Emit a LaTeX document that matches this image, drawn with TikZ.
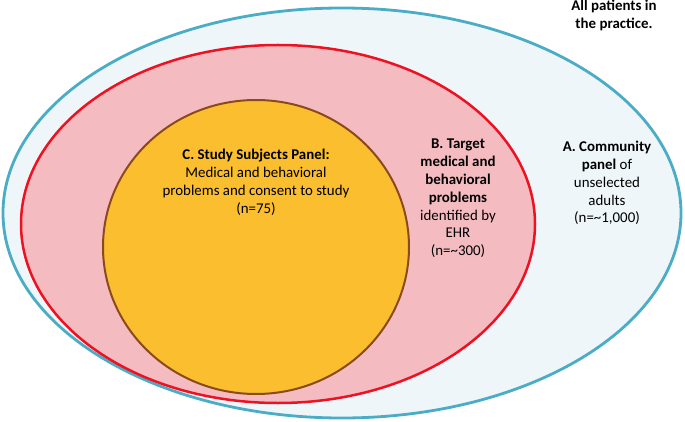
\documentclass[tikz,border=0pt]{standalone}
\usepackage{fontspec}
\setmainfont{Carlito}
\definecolor{aline}{HTML}{4BACC6}
\definecolor{afill}{HTML}{EEF6FA}
\definecolor{bline}{HTML}{EE1122}
\definecolor{bfill}{HTML}{F4BCC1}
\definecolor{cline}{HTML}{8B4A1C}
\definecolor{cfill}{HTML}{FBBE2E}
\begin{document}
\begin{tikzpicture}[x=1pt,y=-1pt,
  lbl/.style={align=center,font=\fontsize{14.9}{17.8}\selectfont,inner sep=0pt,anchor=north}]
\useasboundingbox (0,0) rectangle (685,422);
\filldraw[fill=afill,draw=aline,line width=2.8pt] (342,213) ellipse [x radius=339,y radius=205];
\filldraw[fill=bfill,draw=bline,line width=2.5pt] (278,224) ellipse [x radius=257,y radius=179];
\filldraw[fill=cfill,draw=cline,line width=2pt] (256,247) ellipse [x radius=153,y radius=147];
\node[lbl] (all) at (614,0) {\textbf{All patients in}\\\textbf{the practice.}};
\node[lbl] (c) at (256,149) {\textbf{C. Study Subjects Panel:}\\Medical and behavioral\\problems and consent to study\\(n=75)};
\node[lbl] (b) at (458,139) {\textbf{B. Target}\\\textbf{medical and}\\\textbf{behavioral}\\\textbf{problems}\\identified by\\EHR\\(n=\textasciitilde300)};
\node[lbl] (a) at (607,141) {\textbf{A. Community}\\\textbf{panel} of\\unselected\\adults\\(n=\textasciitilde1,000)};
\end{tikzpicture}
\end{document}
